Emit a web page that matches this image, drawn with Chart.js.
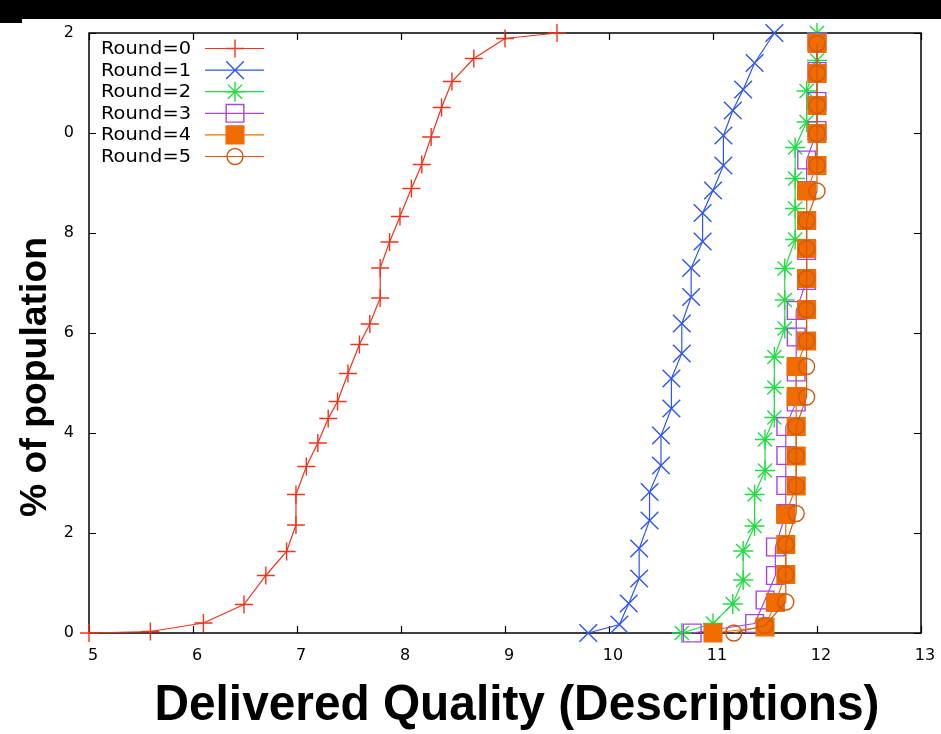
<!DOCTYPE html>
<html>
<head>
<meta charset="utf-8">
<script src="https://cdn.jsdelivr.net/npm/chart.js@4.4.1/dist/chart.umd.min.js"></script>
<style>
  body { margin: 0; background: #fff; }
  canvas { display: block; }
</style>
</head>
<body>
<canvas id="myChart" width="941" height="734"></canvas>
<script>
// ---------------- data ----------------
const seriesNames = ["Round=0", "Round=1", "Round=2", "Round=3", "Round=4", "Round=5"];

const xTickValues = [5, 6, 7, 8, 9, 10, 11, 12, 13];
const yTickLabels = ["0", "2", "4", "6", "8", "0", "2"];

const round0X = [5.0, 5.59, 6.1, 6.49, 6.7, 6.9, 6.99, 6.99, 7.09, 7.2, 7.3, 7.39, 7.49, 7.6, 7.7, 7.8, 7.8, 7.89, 7.99, 8.1, 8.2, 8.29, 8.39, 8.49, 8.7, 9.0, 9.5];
const round0Y = [0, 0.3, 2.0, 5.7, 11.5, 16.3, 21.6, 27.7, 33.3, 38.0, 42.9, 46.3, 51.9, 57.7, 61.8, 67.0, 73.0, 78.2, 83.3, 88.9, 93.7, 99.2, 105.1, 110.3, 114.9, 118.9, 120];

const round1X = [9.8, 10.1, 10.19, 10.29, 10.29, 10.39, 10.39, 10.5, 10.5, 10.6, 10.6, 10.7, 10.7, 10.79, 10.79, 10.9, 10.9, 11.0, 11.1, 11.1, 11.19, 11.29, 11.4, 11.59];
const round1Y = [0, 1.7, 5.9, 10.9, 16.9, 22.5, 28.2, 33.5, 39.5, 44.9, 50.9, 55.9, 61.9, 67.2, 73.0, 78.3, 84.0, 88.5, 93.5, 99.5, 104.5, 108.7, 114.0, 120];

const round2X = [10.7, 11.0, 11.19, 11.29, 11.29, 11.4, 11.4, 11.5, 11.5, 11.59, 11.59, 11.59, 11.69, 11.69, 11.69, 11.79, 11.79, 11.79, 11.79, 11.9, 11.9, 12.0, 12.0];
const round2Y = [0, 1.9, 5.8, 10.6, 16.4, 21.4, 27.7, 32.5, 38.7, 43.1, 49.1, 55.2, 60.9, 66.6, 72.9, 78.7, 84.9, 90.9, 97.1, 102.2, 108.4, 114.5, 120];

const round3X = [10.8, 11.4, 11.5, 11.6, 11.6, 11.7, 11.7, 11.7, 11.7, 11.8, 11.8, 11.8, 11.8, 11.9, 11.9, 11.9, 11.9, 11.9, 12.0, 12.0, 12.0, 12.0];
const round3Y = [0, 1.9, 6.6, 11.5, 17.2, 23.9, 29.5, 35.5, 41.3, 46.2, 52.2, 59.2, 64.5, 70.5, 76.5, 82.5, 88.5, 94.6, 100.5, 106.3, 112.3, 118.3];

const round4X = [11.0, 11.5, 11.6, 11.7, 11.7, 11.7, 11.8, 11.8, 11.8, 11.8, 11.8, 11.9, 11.9, 11.9, 11.9, 11.9, 11.9, 12.0, 12.0, 12.0, 12.0, 12.0];
const round4Y = [0, 1.2, 6.1, 11.7, 17.7, 23.7, 29.4, 35.4, 41.3, 47.3, 53.3, 58.4, 64.7, 70.9, 76.9, 82.5, 88.4, 93.5, 99.9, 105.5, 111.9, 117.9];

const round5X = [11.2, 11.5, 11.7, 11.7, 11.7, 11.8, 11.8, 11.8, 11.8, 11.9, 11.9, 11.9, 11.9, 11.9, 11.9, 11.9, 12.0, 12.0, 12.0, 12.0, 12.0, 12.0];
const round5Y = [0, 1.5, 6.2, 11.7, 17.7, 23.9, 29.4, 35.4, 41.3, 47.2, 53.3, 58.4, 64.7, 70.9, 76.9, 82.5, 88.4, 93.5, 99.9, 105.5, 111.9, 117.9];

// ---------------- styles ----------------
const colors = ["#f2321c", "#2f55f2", "#22dc44", "#a545e0", "#f06c00", "#cf5a12"];
const styles = [
    { pointStyle: "cross",    radius: 9,    fill: false },
    { pointStyle: "crossRot", radius: 12.5, fill: false },
    { pointStyle: "star",     radius: 10,   fill: false },
    { pointStyle: "rect",     radius: 12.5, fill: false },
    { pointStyle: "rect",     radius: 12.5, fill: true },
    { pointStyle: "circle",   radius: 8,    fill: false }
];

const xs = [round0X, round1X, round2X, round3X, round4X, round5X];
const ys = [round0Y, round1Y, round2Y, round3Y, round4Y, round5Y];

function toPoints(x, y) {
    return x.map((v, i) => ({ x: v, y: y[i] }));
}

const datasets = seriesNames.map((name, i) => ({
    label: name,
    data: toPoints(xs[i], ys[i]),
    showLine: true,
    borderColor: colors[i],
    borderWidth: 1.2,
    pointStyle: styles[i].pointStyle,
    pointRadius: styles[i].radius,
    pointBorderWidth: 1.4,
    pointBorderColor: colors[i],
    pointBackgroundColor: styles[i].fill ? colors[i] : "rgba(0,0,0,0)",
    order: 5 - i,  // later rounds drawn on top
    clip: false
}));

// ---------------- custom drawing: frame, ticks, titles, legend ----------------
const gnuplotFrame = {
    id: "gnuplotFrame",
    beforeDatasetsDraw(chart) {
        const ctx = chart.ctx;
        const a = chart.chartArea;
        const xs = chart.scales.x, ys = chart.scales.y;
        ctx.save();
        ctx.strokeStyle = "#000";
        ctx.lineWidth = 1.5;
        ctx.strokeRect(a.left, a.top, a.right - a.left, a.bottom - a.top);
        ctx.lineWidth = 1.2;
        ctx.beginPath();
        xs.ticks.forEach(t => {
            const px = Math.round(xs.getPixelForValue(t.value)) + 0.5;
            ctx.moveTo(px, a.bottom); ctx.lineTo(px, a.bottom - 7);
            ctx.moveTo(px, a.top); ctx.lineTo(px, a.top + 7);
        });
        ys.ticks.forEach(t => {
            const py = Math.round(ys.getPixelForValue(t.value)) + 0.5;
            ctx.moveTo(a.left, py); ctx.lineTo(a.left + 7, py);
            ctx.moveTo(a.right, py); ctx.lineTo(a.right - 7, py);
        });
        ctx.stroke();
        ctx.restore();
    },
    afterDraw(chart) {
        const ctx = chart.ctx;
        ctx.save();

        // black strip at the top of the picture
        ctx.fillStyle = "#000";
        ctx.fillRect(0, 0, chart.width, 19);
        ctx.fillRect(0, 0, 22, 23);

        // axis titles
        ctx.fillStyle = "#000";
        ctx.textAlign = "center";
        ctx.textBaseline = "middle";
        ctx.font = "bold 50px 'Liberation Sans', Arial, sans-serif";
        let w = ctx.measureText("Delivered Quality (Descriptions)").width;
        ctx.save();
        ctx.translate(517, 706);
        ctx.scale(725 / w, 1);
        ctx.fillText("Delivered Quality (Descriptions)", 0, 0);
        ctx.restore();

        ctx.font = "bold 36px 'Liberation Sans', Arial, sans-serif";
        w = ctx.measureText("% of population").width;
        ctx.save();
        ctx.translate(36, 377);
        ctx.rotate(-Math.PI / 2);
        ctx.scale(280 / w, 1);
        ctx.fillText("% of population", 0, 0);
        ctx.restore();

        // legend (text left, sample right)
        const rowTop = 48.5, rowGap = 21.6;
        ctx.font = "17px 'DejaVu Sans', sans-serif";
        ctx.textAlign = "left";
        seriesNames.forEach((name, i) => {
            const y = rowTop + i * rowGap;
            const tw = ctx.measureText(name).width;
            ctx.save();
            ctx.translate(101, y);
            ctx.scale(90 / tw, 1);
            ctx.fillStyle = "#000";
            ctx.fillText(name, 0, 1);
            ctx.restore();

            ctx.strokeStyle = colors[i];
            ctx.lineWidth = 1.2;
            ctx.beginPath();
            ctx.moveTo(205, y); ctx.lineTo(264, y);
            ctx.stroke();

            ctx.lineWidth = 1.4;
            ctx.fillStyle = styles[i].fill ? colors[i] : "rgba(0,0,0,0)";
            Chart.helpers.drawPoint(ctx, {
                pointStyle: styles[i].pointStyle,
                radius: styles[i].radius,
                rotation: 0,
                borderWidth: 1.4
            }, 235, y);
        });
        ctx.restore();
    }
};

const tickFont = { family: "'DejaVu Sans', sans-serif", size: 16 };

new Chart(document.getElementById("myChart").getContext("2d"), {
    type: "scatter",
    data: { datasets: datasets },
    options: {
        responsive: false,
        animation: false,
        devicePixelRatio: 1,
        layout: { padding: { top: 33, right: 20, left: 0, bottom: 0 } },
        plugins: {
            legend: { display: false },
            tooltip: { enabled: false }
        },
        scales: {
            x: {
                type: "linear",
                min: xTickValues[0],
                max: xTickValues[xTickValues.length - 1],
                afterBuildTicks: s => { s.ticks = xTickValues.map(v => ({ value: v })); },
                ticks: {
                    color: "#000",
                    font: tickFont,
                    padding: 13,
                    labelOffset: 4,
                    maxRotation: 0,
                    callback: v => String(v)
                },
                grid: { display: false, drawTicks: false },
                border: { display: false },
                afterFit: s => { s.height = 101; s.paddingLeft = 0; s.paddingRight = 0; }
            },
            y: {
                min: 0,
                max: 120,
                ticks: {
                    stepSize: 20,
                    color: "#000",
                    font: tickFont,
                    padding: 15,
                    callback: (v, i) => yTickLabels[i]
                },
                grid: { display: false, drawTicks: false },
                border: { display: false },
                afterFit: s => { s.width = 89; s.paddingTop = 0; s.paddingBottom = 0; }
            }
        }
    },
    plugins: [gnuplotFrame]
});
</script>
</body>
</html>
